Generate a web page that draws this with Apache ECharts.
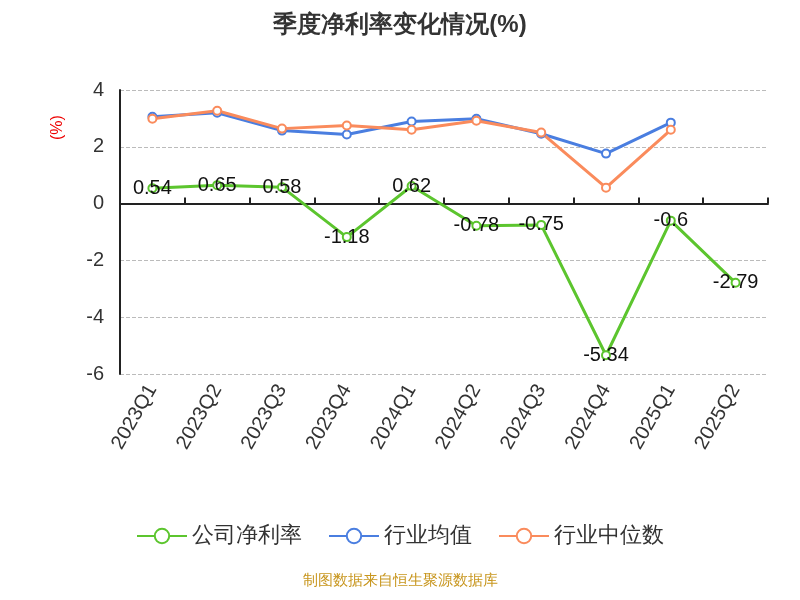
<!DOCTYPE html>
<html><head><meta charset="utf-8">
<script src="https://cdn.jsdelivr.net/npm/echarts@6/dist/echarts.min.js"></script>
</head><body style="margin:0">
<div id="main" style="width:800px;height:600px"></div>
<script>
var categories = ['2023Q1','2023Q2','2023Q3','2023Q4','2024Q1','2024Q2','2024Q3','2024Q4','2025Q1','2025Q2'];
var companyRate = [0.54, 0.65, 0.58, -1.18, 0.62, -0.78, -0.75, -5.34, -0.6, -2.79];
var industryAvg = [3.06, 3.2, 2.57, 2.43, 2.89, 2.99, 2.46, 1.76, 2.85, null];
var industryMedian = [2.99, 3.27, 2.64, 2.75, 2.6, 2.92, 2.5, 0.56, 2.6, null];

var myChart = echarts.init(document.getElementById('main'));
var option = {
    title: {
        text: '季度净利率变化情况(%)',
        left: 'center',
        top: 8,
        textStyle: { fontSize: 24, fontWeight: 'bold', color: '#333' }
    },
    legend: {
        bottom: 48,
        itemWidth: 50,
        itemHeight: 18,
        itemGap: 26,
        textStyle: { fontSize: 22, color: '#333' },
        data: ['公司净利率', '行业均值', '行业中位数']
    },
    graphic: [{
        type: 'text',
        left: 'center',
        bottom: 12,
        style: { text: '制图数据来自恒生聚源数据库', fill: '#c8961e', fontSize: 15 }
    }, {
        type: 'text',
        x: 50, y: 140,
        rotation: Math.PI / 2,
        style: { text: '(%)', fill: '#e00', fontSize: 16 }
    }],
    grid: { left: 120, right: 32, top: 90, bottom: 226 },
    xAxis: [
        {
            type: 'category',
            data: categories,
            position: 'bottom',
            axisLine: { show: false, onZero: false },
            axisTick: { show: false },
            axisLabel: { rotate: 60, fontSize: 20, color: '#333', margin: 12 }
        },
        {
            type: 'category',
            data: categories,
            axisLine: { show: true, onZero: true, lineStyle: { color: '#222', width: 2 } },
            axisTick: { show: true, length: 6, lineStyle: { width: 2 } },
            axisLabel: { show: false }
        }
    ],
    yAxis: {
        type: 'value',
        min: -6, max: 4, interval: 2,
        axisLine: { show: true, lineStyle: { color: '#222', width: 2 } },
        axisLabel: { fontSize: 20, color: '#333', margin: 16 },
        splitLine: { lineStyle: { type: 'dashed', color: '#bbb' } }
    },
    series: [
        {
            name: '公司净利率', type: 'line', data: companyRate,
            color: '#5cc52e', symbol: 'circle', symbolSize: 8,
            itemStyle: { color: '#fff', borderColor: '#5cc52e', borderWidth: 2 },
            lineStyle: { width: 3, color: '#5cc52e' },
            label: { show: true, position: 'inside', fontSize: 20, color: '#111' },
            z: 3
        },
        {
            name: '行业均值', type: 'line', data: industryAvg,
            color: '#4a7ee0', symbol: 'circle', symbolSize: 8,
            itemStyle: { color: '#fff', borderColor: '#4a7ee0', borderWidth: 2 },
            lineStyle: { width: 3, color: '#4a7ee0' }
        },
        {
            name: '行业中位数', type: 'line', data: industryMedian,
            color: '#fa8b5c', symbol: 'circle', symbolSize: 8,
            itemStyle: { color: '#fff', borderColor: '#fa8b5c', borderWidth: 2 },
            lineStyle: { width: 3, color: '#fa8b5c' }
        }
    ]
};
option && myChart.setOption(option);
</script>
</body></html>
